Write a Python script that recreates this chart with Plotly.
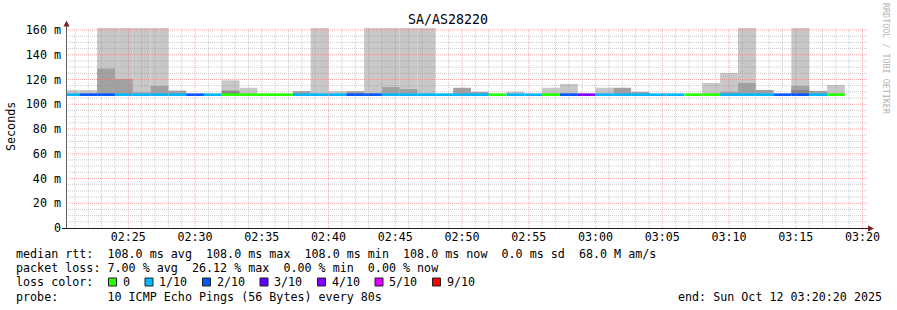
import plotly.graph_objects as go
import pandas as pd

# ---------------- data ----------------
chart_title = "SA/AS28220"
range_start = "2025-10-12 02:20:20"
range_end = "2025-10-12 03:20:20"
first_step_center = "2025-10-12 02:20:40"
step_seconds = 80

# lost pings (out of 10) per 80 s step
lost_pings = [1, 2, 2, 1, 1, 1, 1, 2, 1, 0, 0, 0, 0, 1, 1, 1, 2, 2, 1, 1, 1, 1,
              1, 1, 0, 1, 1, 0, 2, 4, 1, 1, 1, 1, 1, 0, 0, 1, 1, 1, 2, 2, 1, 0]
median_rtt = [108.0, 108.0, 108.0, 108.0, 108.0, 108.0, 108.0, 108.0, 108.0, 108.0, 108.0,
              108.0, 108.0, 108.0, 108.0, 108.0, 108.0, 108.0, 108.0, 108.0, 108.0, 108.0,
              108.0, 108.0, 108.0, 108.0, 108.0, 108.0, 108.0, 108.0, 108.0, 108.0, 108.0,
              108.0, 108.0, 108.0, 108.0, 108.0, 108.0, 108.0, 108.0, 108.0, 108.0, 108.0]
# smoke tops (ms): outer (lightest), middle, inner (darkest); None = no smoke
smoke_outer = [111.4, 111.4, 180, 180, 180, 180, None, None, None, 119.3, 113.3, None,
               None, None, 180, 110.5, None, 180, 180, 180, 180, None, None, None,
               None, 110.2, None, 113.3, 116.4, None, 113.3, None, None, None, None, None,
               117.2, 125.3, 180, None, None, 180, None, 115.6]
smoke_middle = [None, None, 128.8, 120.5, 109.5, 114.7, 111.0, None, None, None, None, None,
                None, 110.6, None, None, 110.5, None, 113.9, 112.3, None, None, 113.3, 110.0,
                None, None, None, None, None, None, None, 113.3, 110.0, None, None, None,
                None, 110.0, 117.2, 111.5, None, 114.7, 110.8, None]
smoke_inner = [None, None, None, None, None, None, None, None, None, 111.0, None, None,
               None, None, None, None, None, None, None, None, None, None, None, None,
               None, None, None, None, None, None, None, None, None, None, None, None,
               None, None, None, None, None, 111.5, None, None]

y_tick_values = [0, 20, 40, 60, 80, 100, 120, 140, 160]
y_tick_labels = ["0", "20 m", "40 m", "60 m", "80 m", "100 m", "120 m", "140 m", "160 m"]
x_tick_times = ["2025-10-12 02:25", "2025-10-12 02:30", "2025-10-12 02:35", "2025-10-12 02:40",
                "2025-10-12 02:45", "2025-10-12 02:50", "2025-10-12 02:55", "2025-10-12 03:00",
                "2025-10-12 03:05", "2025-10-12 03:10", "2025-10-12 03:15", "2025-10-12 03:20"]
x_tick_labels = ["02:25", "02:30", "02:35", "02:40", "02:45", "02:50", "02:55", "03:00",
                 "03:05", "03:10", "03:15", "03:20"]

loss_legend_counts = [0, 1, 2, 3, 4, 5, 9]
loss_legend_labels = ["0", "1/10", "2/10", "3/10", "4/10", "5/10", "9/10"]
loss_legend_colors = ["#26ff00", "#00b8ff", "#0059ff", "#5e00ff", "#7e00ff", "#dd00ff", "#ff0000"]

legend_line1 = "median rtt:  108.0 ms avg  108.0 ms max  108.0 ms min  108.0 ms now  0.0 ms sd  68.0 M am/s"
legend_line2 = "packet loss: 7.00 % avg  26.12 % max  0.00 % min  0.00 % now"
legend_line3 = "loss color:"
legend_line4 = "probe:       10 ICMP Echo Pings (56 Bytes) every 80s"
end_text = "end: Sun Oct 12 03:20:20 2025"
watermark = "RRDTOOL / TOBI OETIKER"
y_title = "Seconds"

# ---------------- figure ----------------
W, H = 897, 310
L, R, T, B = 66, 867, 28, 228
Y_MAX = 161.6
MONO = "DejaVu Sans Mono"


def px(x):
    return (x - L) / (R - L)


def py(y):
    return (B - y) / (B - T)


centers = pd.date_range(first_step_center, periods=len(lost_pings), freq=f"{step_seconds}s")
width_ms = step_seconds * 1000
color_of = dict(zip(loss_legend_counts, loss_legend_colors))

fig = go.Figure()


def smoke_trace(tops, color):
    ys = [None if t is None else t - m for t, m in zip(tops, median_rtt)]
    return go.Bar(x=centers, y=ys, base=median_rtt, width=width_ms,
                  marker=dict(color=color, line=dict(width=0)), showlegend=False,
                  hoverinfo="skip")


fig.add_trace(smoke_trace(smoke_outer, "#c8c8c8"))
fig.add_trace(smoke_trace(smoke_middle, "#a2a2a2"))
fig.add_trace(smoke_trace(smoke_inner, "#888888"))

# median line, coloured by loss
fig.add_trace(go.Bar(x=centers, y=[1.6] * len(median_rtt), base=[m - 0.8 for m in median_rtt],
                     width=width_ms,
                     marker=dict(color=[color_of.get(n, "#ff0000") for n in lost_pings],
                                 line=dict(width=0)),
                     showlegend=False, hoverinfo="skip"))

shapes = []
# minor grid
t0 = pd.Timestamp(range_start)
minor_times = pd.date_range("2025-10-12 02:21", "2025-10-12 03:20", freq="60s")
for t in minor_times:
    if t.minute % 5 == 0:
        continue
    shapes.append(dict(type="line", xref="x", yref="y", x0=str(t), x1=str(t), y0=0, y1=Y_MAX,
                       line=dict(color="rgba(140,140,140,0.45)", width=1, dash="1px,1px"),
                       layer="above"))
for v in range(5, 161, 5):
    if v % 20 == 0:
        continue
    shapes.append(dict(type="line", xref="paper", yref="y", x0=0, x1=1, y0=v, y1=v,
                       line=dict(color="rgba(140,140,140,0.45)", width=1, dash="1px,1px"),
                       layer="above"))
# major grid
for t in x_tick_times:
    shapes.append(dict(type="line", xref="x", yref="y", x0=t, x1=t, y0=0, y1=Y_MAX,
                       line=dict(color="rgba(245,110,110,0.6)", width=1, dash="1px,1px"),
                       layer="above"))
for v in y_tick_values[1:]:
    shapes.append(dict(type="line", xref="paper", yref="y", x0=0, x1=1, y0=v, y1=v,
                       line=dict(color="rgba(245,110,110,0.6)", width=1, dash="1px,1px"),
                       layer="above"))

# axes with arrows
shapes.append(dict(type="line", xref="paper", yref="paper", x0=px(66.5), x1=px(66.5),
                   y0=py(228), y1=py(24), line=dict(color="#606060", width=1), layer="above"))
shapes.append(dict(type="line", xref="paper", yref="paper", x0=px(62), x1=px(870),
                   y0=py(228.5), y1=py(228.5), line=dict(color="#1f1f1f", width=1), layer="above"))
shapes.append(dict(type="path", xref="paper", yref="paper",
                   path=f"M {px(63.5)} {py(26.5)} L {px(69.5)} {py(26.5)} L {px(66.5)} {py(20.5)} Z",
                   fillcolor="#801f1f", line=dict(width=0), layer="above"))
shapes.append(dict(type="path", xref="paper", yref="paper",
                   path=f"M {px(868)} {py(225.5)} L {px(868)} {py(231.5)} L {px(874)} {py(228.5)} Z",
                   fillcolor="#801f1f", line=dict(width=0), layer="above"))

annotations = []


def text(x, y, s, size=11.7, xanchor="left", color="#000000", angle=0):
    annotations.append(dict(x=px(x), y=py(y), xref="paper", yref="paper", text=s.replace(" ", "\u00a0"),
                            showarrow=False, xanchor=xanchor, yanchor="middle", textangle=angle,
                            font=dict(family=MONO, size=size, color=color), borderpad=0))


text(448, 19.5, chart_title, size=13.3, xanchor="center")
text(11, 127, y_title, xanchor="center", angle=-90)
text(886, 59, watermark, size=8.4, xanchor="center", color="#b4b4b4", angle=90)
text(15, 253.5, legend_line1)
text(15, 268, legend_line2)
text(15, 282.3, legend_line3)
text(15, 296.7, legend_line4)
text(677, 296.7, end_text)

sq_x = [108.5, 145, 202.5, 260, 317.5, 375, 432.5]
for sx, lab, col in zip(sq_x, loss_legend_labels, loss_legend_colors):
    shapes.append(dict(type="rect", xref="paper", yref="paper", x0=px(sx), x1=px(sx + 8),
                       y0=py(286), y1=py(278), fillcolor=col,
                       line=dict(color="#202020", width=1)))
    text(sx + 13, 282.3, lab)

fig.update_layout(
    width=W, height=H,
    margin=dict(l=L, r=W - R, t=T, b=H - B),
    paper_bgcolor="#ffffff", plot_bgcolor="#ffffff",
    barmode="overlay", showlegend=False,
    shapes=shapes, annotations=annotations,
    xaxis=dict(type="date", range=[range_start, range_end], tickmode="array",
               tickvals=x_tick_times, ticktext=x_tick_labels, showgrid=False, zeroline=False,
               showline=False, ticks="", tickfont=dict(family=MONO, size=11.7, color="#000000"),
               fixedrange=True),
    yaxis=dict(range=[0, Y_MAX], tickmode="array", tickvals=y_tick_values, ticktext=y_tick_labels,
               showgrid=False, zeroline=False, showline=False, ticks="",
               ticklabelstandoff=4,
               tickfont=dict(family=MONO, size=11.7, color="#000000"), fixedrange=True),
)

fig.write_html("out.html")
